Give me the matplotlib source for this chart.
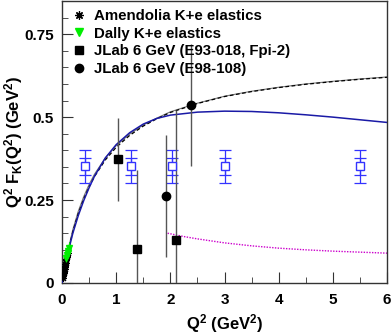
"""
Kaon form factor Q^2 F_K(Q^2) vs Q^2 with data and model curves
"""

import matplotlib
matplotlib.use('Agg')
import matplotlib.pyplot as plt
from matplotlib.lines import Line2D
from matplotlib.ticker import MultipleLocator

# Amendolia K+e elastics (low Q^2)
amend_q2 = [0.017, 0.022, 0.027, 0.032, 0.037, 0.042, 0.047, 0.052,
            0.057, 0.063, 0.069, 0.075, 0.082, 0.089, 0.097, 0.105]
amend_val = [0.015, 0.022, 0.025, 0.031, 0.034, 0.041, 0.043, 0.049,
             0.051, 0.058, 0.060, 0.068, 0.071, 0.079, 0.082, 0.090]
amend_err = [0.006, 0.006, 0.007, 0.007, 0.007, 0.008, 0.008, 0.008,
             0.008, 0.009, 0.009, 0.009, 0.010, 0.010, 0.010, 0.011]

# Dally K+e elastics
dally_q2 = [0.08, 0.095, 0.105, 0.115, 0.125]
dally_val = [0.075, 0.084, 0.090, 0.097, 0.106]
dally_err = [0.012, 0.013, 0.014, 0.016, 0.018]

# JLab 6 GeV (E93-018, Fpi-2)
e93_q2 = [1.03, 1.38, 2.10]
e93_val = [0.373, 0.102, 0.130]
e93_err = [0.125, 0.240, 0.390]

# JLab 6 GeV (E98-108)
e98_q2 = [1.92, 2.38]
e98_val = [0.262, 0.536]
e98_err = [0.185, 0.183]

# projected points (blue open squares)
proj_q2 = [0.42, 1.27, 2.03, 3.0, 5.5]
proj_val = [0.352, 0.352, 0.352, 0.352, 0.352]
proj_err_in = [0.025, 0.025, 0.025, 0.025, 0.025]
proj_err_out = [0.05, 0.05, 0.05, 0.05, 0.05]

# curves
curve_q2 = [0.0, 0.1, 0.2, 0.3, 0.4, 0.5, 0.6, 0.8, 1.0, 1.25, 1.5, 1.75,
            2.0, 2.5, 3.0, 3.5, 4.0, 4.5, 5.0, 5.5, 6.0]
mono_val = [0.0, 0.087, 0.155, 0.209, 0.253, 0.290, 0.321, 0.371, 0.409,
            0.445, 0.473, 0.495, 0.514, 0.541, 0.562, 0.577, 0.589, 0.599,
            0.607, 0.614, 0.620]
mono2_val = [0.0, 0.091, 0.161, 0.216, 0.260, 0.297, 0.328, 0.377, 0.414,
             0.449, 0.476, 0.497, 0.516, 0.542, 0.563, 0.578, 0.590, 0.600,
             0.608, 0.615, 0.621]
model_val = [0.0, 0.085, 0.150, 0.203, 0.248, 0.287, 0.322, 0.377, 0.417,
             0.453, 0.479, 0.496, 0.506, 0.515, 0.518, 0.517, 0.513, 0.507,
             0.500, 0.492, 0.484]
high_q2 = [1.95, 2.25, 2.5, 3.0, 3.5, 4.0, 4.5, 5.0, 5.5, 6.0]
high_val = [0.150, 0.140, 0.133, 0.121, 0.112, 0.105, 0.100, 0.096, 0.093, 0.090]

plt.rcParams['font.family'] = ['Liberation Sans', 'DejaVu Sans']
plt.rcParams['font.weight'] = 'bold'
plt.rcParams['mathtext.fontset'] = 'custom'
plt.rcParams['mathtext.rm'] = 'Liberation Sans:bold'
plt.rcParams['mathtext.it'] = 'Liberation Sans:bold'
plt.rcParams['mathtext.bf'] = 'Liberation Sans:bold'

fig = plt.figure(figsize=(3.91, 3.36), dpi=100)
ax = fig.add_axes([62 / 391, 1 - 283 / 336, 325 / 391, 282 / 336])

ax.set_xlim(0, 6)
ax.set_ylim(0, 0.85)

BAR = '#555555'

# curves
ax.plot(curve_q2, mono2_val, color='#777777', lw=0.8, zorder=2)
ax.plot(curve_q2, mono_val, color='black', lw=0.9, ls=(0, (3, 2)), zorder=2)
ax.plot(curve_q2, model_val, color='#1a1aa6', lw=1.1, zorder=3)
ax.plot(high_q2, high_val, color='#cc00cc', lw=1.0, ls=(0, (1, 1)), zorder=2)

# projected points
ax.errorbar(proj_q2, proj_val, yerr=proj_err_out, fmt='none', ecolor='#3333ff',
            elinewidth=0.9, capsize=4, capthick=0.9, zorder=4)
ax.errorbar(proj_q2, proj_val, yerr=proj_err_in, fmt='none', ecolor='#3333ff',
            elinewidth=0.9, capsize=4, capthick=0.9, zorder=4)
ax.plot(proj_q2, proj_val, 's', ms=6, mfc='white', mec='#3333ff', mew=1.0, zorder=5)

# data
ax.errorbar(amend_q2, amend_val, yerr=amend_err, fmt='none', ecolor=BAR,
            elinewidth=0.6, zorder=4)
ax.plot(amend_q2, amend_val, ls='none', marker=(8, 2, 0), ms=5, mec='black',
        mew=0.8, zorder=5)
ax.errorbar(dally_q2, dally_val, yerr=dally_err, fmt='none', ecolor='#00dd00',
            elinewidth=0.8, zorder=5)
ax.plot(dally_q2, dally_val, 'v', ms=5, color='#00ee00', mec='#00ee00', zorder=6)

ax.errorbar(e93_q2, e93_val, yerr=e93_err, fmt='none', ecolor=BAR,
            elinewidth=1.0, zorder=4)
ax.plot(e93_q2, e93_val, 's', ms=6, color='black', zorder=5)
ax.errorbar(e98_q2, e98_val, yerr=e98_err, fmt='none', ecolor=BAR,
            elinewidth=1.0, zorder=4)
ax.plot(e98_q2, e98_val, 'o', ms=6, color='black', zorder=5)

# axes style
ax.xaxis.set_major_locator(MultipleLocator(1))
ax.xaxis.set_minor_locator(MultipleLocator(0.5))
ax.yaxis.set_minor_locator(MultipleLocator(0.05))
ax.set_yticks([0, 0.25, 0.5, 0.75])
ax.set_yticklabels(['0', '0.25', '0.5', '0.75'])
ax.tick_params(which='both', direction='in', top=False, right=False,
               labelsize=11, color='#333333')
ax.tick_params(axis='y', pad=6)
ax.tick_params(axis='x', pad=7)
ax.tick_params(which='major', length=8)
ax.tick_params(which='minor', length=4)
for lab in ax.get_xticklabels() + ax.get_yticklabels():
    lab.set_fontweight('bold')
for sp in ax.spines.values():
    sp.set_color('#333333')
    sp.set_linewidth(1.0)

ax.set_xlabel(r'Q$^2$ (GeV$^2$)', fontsize=12, fontweight='bold', va='top')
ax.xaxis.set_label_coords(0.5, -0.103)
ax.set_ylabel(r'Q$^2$ F$_K$(Q$^2$) (GeV$^2$)', fontsize=12, fontweight='bold',
              va='bottom')
ax.yaxis.set_label_coords(-0.114, 0.5)

handles = [
    Line2D([], [], ls='none', marker=(8, 2, 0), ms=6, mec='black', mew=0.9),
    Line2D([], [], ls='none', marker='v', ms=6, color='#00ee00'),
    Line2D([], [], ls='none', marker='s', ms=6, color='black'),
    Line2D([], [], ls='none', marker='o', ms=6, color='black'),
]
labels = ['Amendolia K+e elastics', 'Dally K+e elastics',
          'JLab 6 GeV (E93-018, Fpi-2)', 'JLab 6 GeV (E98-108)']
ax.legend(handles, labels, loc='upper left', bbox_to_anchor=(0.03, 0.972),
          frameon=False, borderpad=0, borderaxespad=0, handlelength=1.0,
          handletextpad=0.45, labelspacing=0.25,
          prop={'size': 10.8, 'weight': 'bold'})

fig.savefig('out.png', dpi=100, facecolor='white')
